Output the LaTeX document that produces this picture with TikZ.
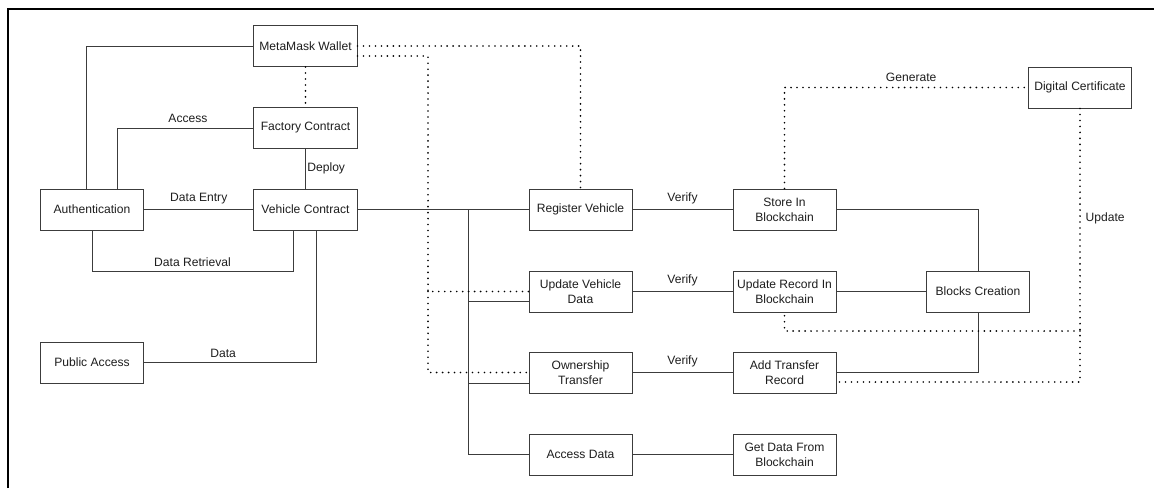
\documentclass[tikz,border=0pt]{standalone}
\usepackage{fontspec}
\setmainfont{Liberation Sans}
\usepackage{tikz}
\usetikzlibrary{calc}
\definecolor{edgegray}{RGB}{60,60,60}
\definecolor{textgray}{RGB}{30,30,30}

\begin{document}
\begin{tikzpicture}[x=0.025cm,y=-0.025cm,
    every node/.style={align=center,font=\fontsize{8.6}{10.7}\selectfont,text=textgray},
    block/.style={draw=edgegray,line width=0.7pt,fill=white,minimum width=2.575cm,minimum height=1.025cm,inner sep=1pt},
    link/.style={draw=edgegray,line width=0.7pt},
    dots/.style={draw=black,line width=1.3pt,line cap=round,dash pattern=on 0pt off 4.25pt}]
  \useasboundingbox (0,0) rectangle (1154,488);
  \draw[line width=1.4pt] (8,488) -- (8,9) -- (1154,9);

  % left side
  \node[block] (wallet) at (305.5,46) {MetaMask Wallet};
  \node[block] (fac) at (305.5,128) {Factory Contract};
  \node[block] (auth) at (92,209.5) {Authentication};
  \node[block] (vc) at (305.5,209.5) {Vehicle Contract};
  \node[block] (pub) at (92,362.5) {Public Access};

  % operations
  \node[block] (reg) at (580.5,209.5) {Register Vehicle};
  \node[block] (upd) at (580.5,291.5) {Update Vehicle\\Data};
  \node[block] (own) at (580.5,372.5) {Ownership\\Transfer};
  \node[block] (acc) at (580.5,454.5) {Access Data};

  % blockchain side
  \node[block] (store) at (784.5,209.5) {Store In\\Blockchain};
  \node[block] (urec) at (784.5,291.5) {Update Record In\\Blockchain};
  \node[block] (addt) at (784.5,372.5) {Add Transfer\\Record};
  \node[block] (getd) at (784.5,454.5) {Get Data From\\Blockchain};
  \node[block] (blk) at (978,291.5) {Blocks Creation};
  \node[block] (cert) at (1080,87.5) {Digital Certificate};

  \coordinate (bus) at (468,209.5);
  \coordinate (tap) at (428,291.5);
  \coordinate (updj) at (1080,331);

  \draw[link] ($(auth.north)+(-6,0)$) |- (wallet.west);
  \draw[link] ($(auth.north)+(25,0)$) |- node[pos=0.76,above]{Access} (fac.west);
  \draw[link] (fac) -- node[right,inner sep=1pt]{Deploy} (vc);
  \draw[link] (auth) -- node[above]{Data Entry} (vc);
  \draw[link] (auth.south) -- ++(0,41) -| node[pos=0.25,above]{Data Retrieval} ($(vc.south)+(-12.5,0)$);
  \draw[link] (pub.east) -| node[pos=0.23,above]{Data} ($(vc.south)+(10.5,0)$);

  \draw[link] (vc) -- (reg);
  \draw[link] (bus) |- ($(upd.west)+(0,9.5)$);
  \draw[link] (bus) |- ($(own.west)+(0,10.5)$);
  \draw[link] (bus) |- (acc.west);

  \draw[link] (reg) -- node[above]{Verify} (store);
  \draw[link] (upd) -- node[above]{Verify} (urec);
  \draw[link] (own) -- node[above]{Verify} (addt);
  \draw[link] (acc) -- (getd);

  \draw[link] (store.east) -| (blk.north);
  \draw[link] (urec) -- (blk);
  \draw[link] (addt.east) -| (blk.south);

  % dotted links
  \draw[dots] (wallet) -- (fac);
  \draw[dots] (wallet.east) -| (reg.north);
  \draw[dots] ($(wallet.east)+(0,10)$) -| (tap) |- (upd.west);
  \draw[dots] (tap) |- (own.west);
  \draw[dots] (store.north) |- node[pos=0.76,above,text=textgray]{Generate} (cert.west);
  \draw[dots] (cert.south) |- node[pos=0.2,right]{Update} ($(addt.east)+(0,9.5)$);
  \draw[dots] (updj) -| (urec.south);
\end{tikzpicture}
\end{document}
